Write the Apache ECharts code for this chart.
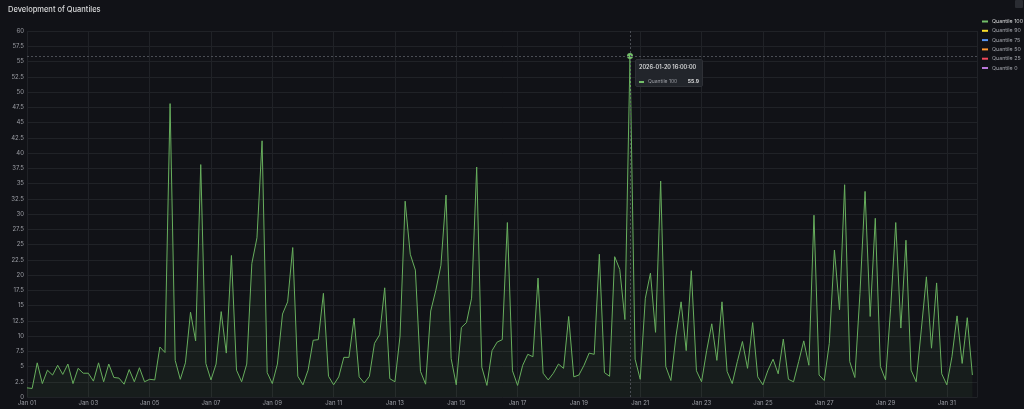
<!DOCTYPE html>
<html>
<head>
<meta charset="utf-8">
<script src="https://cdn.jsdelivr.net/npm/echarts@6/dist/echarts.min.js"></script>
<style>
  html, body { margin: 0; padding: 0; background: #111217; }
  #chart { width: 1024px; height: 409px; }
</style>
</head>
<body>
<div id="chart"></div>
<script>
// ---- data (4-hour samples, starting 2026-01-01 00:00) ----
const startTime = Date.UTC(2026, 0, 1, 0, 0, 0);
const stepMs = 4 * 3600 * 1000;
const seriesNames = ['Quantile 100', 'Quantile 90', 'Quantile 75', 'Quantile 50', 'Quantile 25', 'Quantile 0'];
const seriesColors = ['#73bf69', '#fade2a', '#5794f2', '#ff9830', '#f2495c', '#b877d9'];
const quantile100 = [
  1.5, 1.4, 5.6, 2.2, 4.4, 3.6,
  5.2, 3.7, 5.4, 2.2, 4.7, 3.9,
  3.9, 2.6, 5.6, 2.5, 5.4, 3.2,
  3.1, 2.1, 4.5, 2.5, 4.8, 2.5,
  2.9, 2.8, 8.2, 7.3, 48.1, 6.0,
  2.9, 5.6, 13.9, 9.2, 38.1, 5.5,
  2.8, 5.4, 14.0, 7.2, 23.2, 4.4,
  2.5, 5.4, 21.9, 26.1, 42.0, 4.0,
  2.2, 5.4, 13.6, 15.6, 24.5, 3.4,
  2.0, 4.4, 9.3, 9.4, 17.0, 3.4,
  2.0, 3.3, 6.5, 6.5, 12.9, 3.3,
  2.3, 3.4, 8.8, 10.2, 17.9, 3.0,
  2.5, 10.0, 32.1, 23.4, 20.8, 4.2,
  2.1, 14.1, 17.5, 21.6, 33.1, 6.3,
  2.0, 11.4, 12.2, 16.2, 37.7, 4.9,
  1.9, 7.6, 9.0, 9.4, 28.6, 4.3,
  1.9, 5.2, 7.0, 6.6, 19.5, 3.9,
  2.8, 3.9, 5.4, 4.7, 13.2, 3.3,
  3.6, 5.2, 7.2, 7.0, 23.4, 4.0,
  3.4, 23.0, 20.9, 12.7, 55.9, 6.2,
  2.9, 16.2, 20.3, 10.6, 35.4, 5.0,
  2.7, 10.0, 15.6, 7.6, 20.7, 4.3,
  2.5, 7.6, 12.0, 6.0, 15.6, 4.2,
  2.2, 5.8, 9.1, 4.7, 12.2, 3.3,
  2.0, 4.4, 6.2, 3.8, 9.5, 2.9,
  2.5, 5.8, 9.2, 5.2, 29.8, 3.6,
  2.7, 8.8, 24.1, 14.3, 34.8, 5.8,
  3.2, 17.0, 33.7, 13.2, 29.3, 5.0,
  2.8, 14.5, 28.6, 11.3, 25.7, 4.4,
  2.5, 11.0, 19.7, 8.0, 18.7, 3.8,
  2.0, 6.6, 13.3, 5.5, 13.0, 3.6
];
const quantile90 = [];
const quantile75 = [];
const quantile50 = [];
const quantile25 = [];
const quantile0 = [];
const tooltipIndex = 118; // 2026-01-20 16:00
const xMin = Date.UTC(2026, 0, 1);
const xMax = Date.UTC(2026, 1, 1);
const monthNames = ['Jan','Feb','Mar','Apr','May','Jun','Jul','Aug','Sep','Oct','Nov','Dec'];

const pad = n => String(n).padStart(2, '0');
function fmtFull(ts) {
  const d = new Date(ts);
  return d.getUTCFullYear() + '-' + pad(d.getUTCMonth() + 1) + '-' + pad(d.getUTCDate()) + ' ' +
    pad(d.getUTCHours()) + ':' + pad(d.getUTCMinutes()) + ':' + pad(d.getUTCSeconds());
}
const toPairs = arr => arr.map((v, i) => [startTime + i * stepMs, v]);
const allData = [quantile100, quantile90, quantile75, quantile50, quantile25, quantile0];

const chart = echarts.init(document.getElementById('chart'), null, { renderer: 'canvas' });
const font = 'Inter, "Noto Sans", sans-serif';

const series = seriesNames.map((name, k) => ({
  name,
  type: 'line',
  data: toPairs(allData[k]),
  showSymbol: false,
  symbol: 'circle',
  symbolSize: 6,
  animation: false,
  lineStyle: { color: k === 0 ? '#5e9f55' : seriesColors[k], width: 1 },
  itemStyle: { color: seriesColors[k], borderWidth: 0 },
  areaStyle: k === 0 ? { color: 'rgba(115,191,105,0.09)' } : undefined,
  emphasis: { scale: false, lineStyle: { width: 1 }, itemStyle: { color: seriesColors[k], borderWidth: 0 } }
}));

chart.setOption({
  backgroundColor: '#111217',
  animation: false,
  title: {
    text: 'Development of Quantiles',
    left: 3, top: 1,
    textStyle: { color: '#d8d9da', fontSize: 7.5, fontWeight: 500, fontFamily: font }
  },
  legend: {
    orient: 'vertical',
    left: 982, top: 18,
    padding: 0,
    icon: 'rect',
    itemWidth: 6, itemHeight: 2,
    itemGap: 2.3,
    textStyle: { fontSize: 5.3, lineHeight: 7, fontFamily: font, color: '#9fa1a8', padding: [0, 0, 0, -1] },
    data: seriesNames.map((n, k) => ({ name: n, textStyle: { color: k === 0 ? '#d8d9da' : '#9fa1a8' } }))
  },
  grid: { left: 27, right: 46.5, top: 31, bottom: 12, containLabel: false, outerBoundsMode: 'none' },
  tooltip: {
    trigger: 'axis',
    alwaysShowContent: true,
    transitionDuration: 0,
    padding: 0,
    backgroundColor: '#22252b',
    borderColor: '#2e3036',
    borderWidth: 1,
    extraCssText: 'box-shadow:none;border-radius:2px;',
    axisPointer: {
      type: 'cross',
      lineStyle: { color: '#4a4d54', width: 1, type: [2, 2] },
      crossStyle: { color: '#4a4d54', width: 1, type: [2, 2] },
      label: { show: false }
    },
    position: function (point) { return [point[0] + 5, point[1] + 3]; },
    formatter: function (params) {
      const p = params.filter(q => q.seriesIndex === 0)[0] || params[0];
      return '<div style="box-sizing:border-box;width:66px;height:26px;padding:4px 3px 0 3px;font-family:Inter,sans-serif;">' +
        '<div style="font-size:5.5px;line-height:7px;font-weight:600;color:#d8d9da;">' + fmtFull(p.value[0]) + '</div>' +
        '<div style="display:flex;align-items:center;margin-top:7px;font-size:5px;line-height:7px;">' +
        '<span style="display:inline-block;width:5px;height:2px;background:' + seriesColors[0] + ';margin-right:4px;"></span>' +
        '<span style="color:#9a9ca3;flex:1;">' + p.seriesName + '</span>' +
        '<span style="color:#d8d9da;font-weight:700;">' + p.value[1].toFixed(1) + '</span>' +
        '</div></div>';
    }
  },
  xAxis: {
    type: 'value',
    min: xMin, max: xMax,
    interval: 2 * 86400000,
    axisLine: { show: false },
    axisTick: { show: false },
    splitLine: { show: true, lineStyle: { color: '#202227', width: 1 } },
    axisLabel: {
      color: '#9a9ca3', fontSize: 6, fontFamily: font, margin: 3,
      showMaxLabel: false,
      formatter: v => { const d = new Date(v); return monthNames[d.getUTCMonth()] + ' ' + pad(d.getUTCDate()); }
    }
  },
  yAxis: {
    type: 'value',
    min: 0, max: 60, interval: 2.5,
    name: '€/MWh',
    nameLocation: 'middle',
    nameGap: 21,
    nameTextStyle: { color: '#9a9ca3', fontSize: 6, fontFamily: font },
    axisLine: { show: false },
    axisTick: { show: false },
    splitLine: { show: true, lineStyle: { color: '#202227', width: 1 } },
    axisLabel: { color: '#9a9ca3', fontSize: 6, fontFamily: font, margin: 3 }
  },
  graphic: [
    { type: 'rect', left: 1015, top: 0, shape: { width: 8, height: 8, r: 1 }, style: { fill: '#2a2c32' } }
  ],
  series
});

chart.dispatchAction({ type: 'showTip', seriesIndex: 0, dataIndex: tooltipIndex });
</script>
</body>
</html>
